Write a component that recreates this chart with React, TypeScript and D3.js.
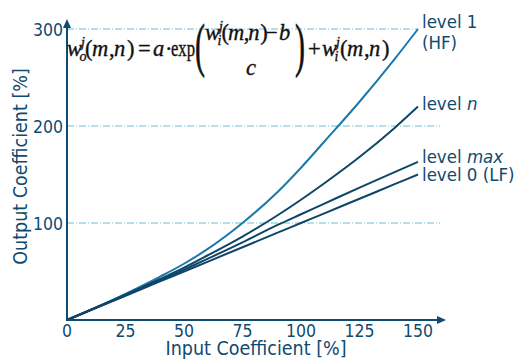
import React from "react";
import * as d3 from "d3";

// input coefficient [%] sample positions
const inputValues = [0, 25, 40, 50, 60, 75, 90, 100, 110, 125, 140, 150];
// output coefficient [%] per level
const level1Values = [0, 27, 45, 58, 73, 100, 132, 157, 184, 225, 269, 300];
const levelNValues = [0, 26, 42.5, 54, 66.5, 86, 108, 124, 141, 168, 198, 220];
const levelMaxValues = [0, 25.5, 41, 52, 63, 80, 98, 109, 120, 136.5, 152.5, 163];
const level0Values = [0, 25, 40, 50, 60, 75, 90, 100, 110, 125, 140, 150];

const xTicks = [0, 25, 50, 75, 100, 125, 150];
const yTicks = [100, 200, 300];
const gridTicks = [100, 200, 300];

const W = 518;
const H = 359;
const FONT = "'DejaVu Sans Condensed', 'Liberation Sans', sans-serif";
const SERIF = "'Liberation Serif', 'DejaVu Serif', serif";
const INK = "#0f4a70";
const DARK = "#0e4568";
const LIGHT = "#1a78ad";
const GRID = "#6dbfcc";

const x = d3.scaleLinear().domain([0, 150]).range([67, 418]);
const y = d3.scaleLinear().domain([0, 300]).range([320, 29]);

const line = d3
  .line<number>()
  .x((_, i) => x(inputValues[i]))
  .y((d) => y(d))
  .curve(d3.curveMonotoneX);

const series = [
  { name: "level1", values: level1Values, color: LIGHT },
  { name: "levelN", values: levelNValues, color: DARK },
  { name: "levelMax", values: levelMaxValues, color: DARK },
  { name: "level0", values: level0Values, color: DARK },
];

const FS = 22.5;

// w with sub/superscript followed by (m, n)
const WTerm = ({ x0, base, sub, k = 1 }: { x0: number; base: number; sub: string; k?: number }) => (
  <g>
    <text x={x0} y={base} fontSize={FS} fontStyle="italic">w</text>
    <text x={x0 + 12.5} y={base + 5} fontSize={14} fontStyle="italic">{sub}</text>
    <text x={x0 + 14} y={base - 9.5} fontSize={14} fontStyle="italic">j</text>
    <text x={x0 + 18 * k} y={base} fontSize={FS}>(</text>
    <text x={x0 + 25 * k} y={base} fontSize={FS} fontStyle="italic">m</text>
    <text x={x0 + 42 * k} y={base} fontSize={FS}>,</text>
    <text x={x0 + 47 * k} y={base} fontSize={FS} fontStyle="italic">n</text>
    <text x={x0 + 60 * k} y={base} fontSize={FS}>)</text>
  </g>
);

const Formula = () => (
  <g fontFamily={SERIF} fill="#111" stroke="#111" strokeWidth={0.35}>
    <WTerm x0={67} base={56} sub="o" />
    <text x={138} y={56} fontSize={FS}>=</text>
    <text x={153} y={56} fontSize={FS} fontStyle="italic">a</text>
    <text x={165} y={56} fontSize={FS}>·</text>
    <text x={171} y={56} fontSize={FS} textLength={24} lengthAdjust="spacingAndGlyphs">exp</text>
    <text transform="translate(195,64.5) scale(1,2)" fontSize={30}>(</text>
    <WTerm x0={205} base={40} sub="i" k={0.92} />
    <text x={265} y={40} fontSize={FS}>−</text>
    <text x={279} y={40} fontSize={FS} fontStyle="italic">b</text>
    <text x={251} y={75} fontSize={FS} fontStyle="italic" textAnchor="middle">c</text>
    <text transform="translate(295,64.5) scale(1,2)" fontSize={30}>)</text>
    <text x={308} y={56} fontSize={FS}>+</text>
    <WTerm x0={322} base={56} sub="i" />
  </g>
);

export default function App() {
  const x0 = x(0);
  const y0 = y(0);
  const xEnd = 446;
  const yEnd = 19;
  return (
    <svg
      width={W}
      height={H}
      style={{ position: "absolute", left: 0, top: 0, background: "#fff" }}
    >
      {gridTicks.map((t) => (
        <line
          key={t}
          x1={x0}
          x2={t === 300 ? x(150) : x(150) + 22}
          y1={y(t)}
          y2={y(t)}
          stroke={GRID}
          strokeWidth={1}
          strokeDasharray="7 2 1 2"
        />
      ))}

      {series.map((s) => (
        <path key={s.name} d={line(s.values) || ""} fill="none" stroke={s.color} strokeWidth={2} />
      ))}

      {/* axes with arrow heads */}
      <line x1={x0} x2={xEnd - 6} y1={y0} y2={y0} stroke={INK} strokeWidth={2} />
      <path d={`M${xEnd},${y0} L${xEnd - 9},${y0 - 4} L${xEnd - 9},${y0 + 4} Z`} fill={INK} />
      <line x1={x0} x2={x0} y1={y0 + 1} y2={yEnd + 6} stroke={INK} strokeWidth={2} />
      <path d={`M${x0},${yEnd} L${x0 - 4},${yEnd + 9} L${x0 + 4},${yEnd + 9} Z`} fill={INK} />

      <g fontFamily={FONT} fill={INK} fontSize={17.5}>
        {xTicks.map((t) => (
          <text key={t} x={x(t)} y={337} textAnchor="middle">{t}</text>
        ))}
        {yTicks.map((t) => (
          <text key={t} x={63} y={y(t) + 7} textAnchor="end">{t}</text>
        ))}
      </g>

      <g fontFamily={FONT} fill={INK} fontSize={19.5}>
        <text x={256} y={355} textAnchor="middle">Input Coefficient [%]</text>
        <text transform="translate(27,166.5) rotate(-90)" textAnchor="middle">Output Coefficient [%]</text>
      </g>

      <g fontFamily={FONT} fill={INK} fontSize={18.5}>
        <text x={422} y={28}>level 1</text>
        <text x={422} y={49}>(HF)</text>
        <text x={422} y={110}>
          level <tspan fontStyle="italic">n</tspan>
        </text>
        <text x={422} y={163}>
          level <tspan fontStyle="italic">max</tspan>
        </text>
        <text x={422} y={181}>level 0 (LF)</text>
      </g>

      <Formula />
    </svg>
  );
}
